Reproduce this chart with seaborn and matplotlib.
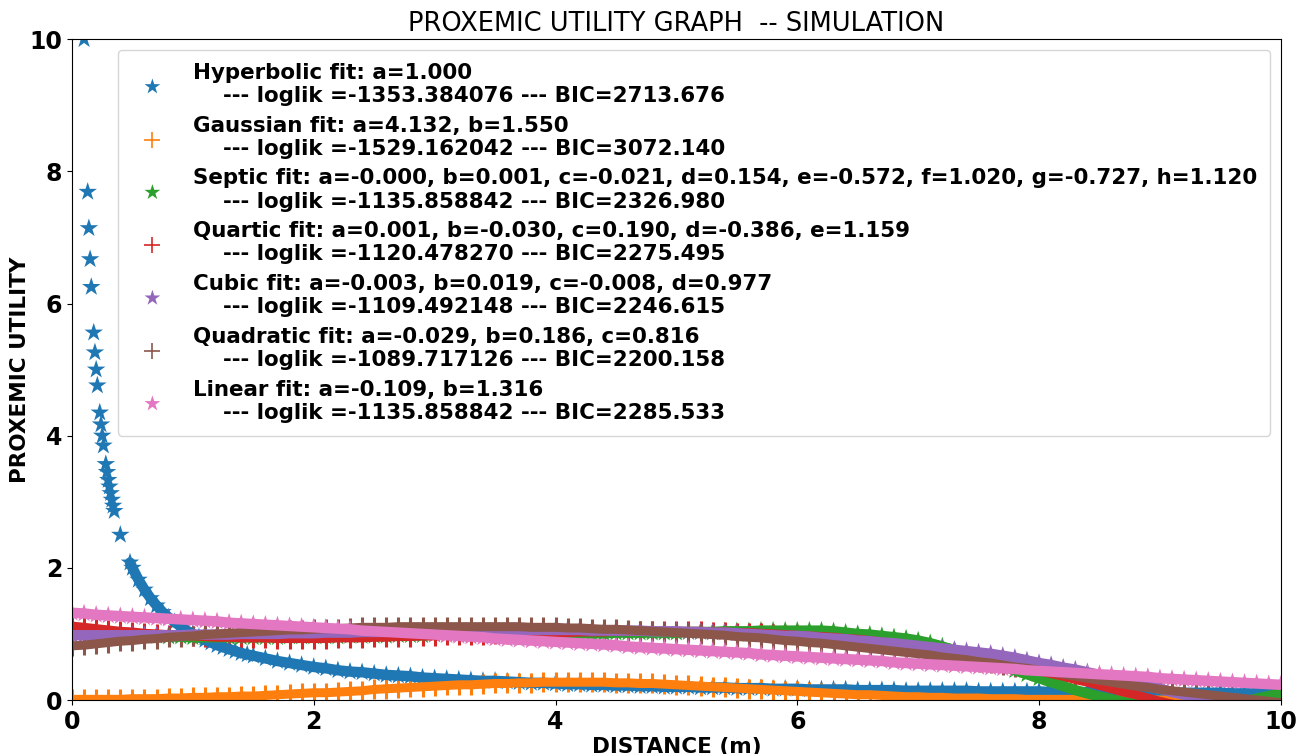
import matplotlib
matplotlib.use("Agg")
import matplotlib.pyplot as plt
import seaborn as sns

# distances (m) at which every fit is evaluated
DISTANCE = [
    0.0, 0.1, 0.2, 0.3, 0.4, 0.5, 0.6, 0.7, 0.8, 0.9,
    1.0, 1.1, 1.2, 1.3, 1.4, 1.5, 1.6, 1.7, 1.8, 1.9,
    2.0, 2.1, 2.2, 2.3, 2.4, 2.5, 2.6, 2.7, 2.8, 2.9,
    3.0, 3.1, 3.2, 3.3, 3.4, 3.5, 3.6, 3.7, 3.8, 3.9,
    4.0, 4.1, 4.2, 4.3, 4.4, 4.5, 4.6, 4.7, 4.8, 4.9,
    5.0, 5.1, 5.2, 5.3, 5.4, 5.5, 5.6, 5.7, 5.8, 5.9,
    6.0, 6.1, 6.2, 6.3, 6.4, 6.5, 6.6, 6.7, 6.8, 6.9,
    7.0, 7.1, 7.2, 7.3, 7.4, 7.5, 7.6, 7.7, 7.8, 7.9,
    8.0, 8.1, 8.2, 8.3, 8.4, 8.5, 8.6, 8.7, 8.8, 8.9,
    9.0, 9.1, 9.2, 9.3, 9.4, 9.5, 9.6, 9.7, 9.8, 9.9,
    10.0,
]

# hyperbolic fit has extra close-range samples
HYPER_NEAR = [
    0.10, 0.13, 0.14, 0.15, 0.16, 0.18, 0.19, 0.20, 0.21, 0.23, 0.24, 0.25,
    0.26, 0.28, 0.29, 0.30, 0.31, 0.32, 0.33, 0.34, 0.35, 0.40, 0.48,
    0.50, 0.55, 0.60, 0.65, 0.70, 0.75, 0.80, 0.85, 0.90, 0.95, 1.00,
    1.05, 1.10, 1.15, 1.20, 1.25, 1.30, 1.35, 1.40, 1.45, 1.50,
]
HYPER_DIST = HYPER_NEAR + DISTANCE[16:]

HYPERBOLIC = [
    10.0, 7.69, 7.14, 6.67, 6.25, 5.56, 5.26, 5.00, 4.76, 4.35, 4.17, 4.00,
    3.85, 3.57, 3.45, 3.33, 3.23, 3.13, 3.03, 2.94, 2.86, 2.50, 2.08,
    2.00, 1.82, 1.67, 1.54, 1.43, 1.33, 1.25, 1.18, 1.11, 1.05, 1.00,
    0.95, 0.91, 0.87, 0.83, 0.80, 0.77, 0.74, 0.71, 0.69, 0.67,
    0.63, 0.59, 0.56, 0.53,
    0.50, 0.48, 0.45, 0.43, 0.42, 0.40, 0.38, 0.37, 0.36, 0.34,
    0.33, 0.32, 0.31, 0.30, 0.29, 0.29, 0.28, 0.27, 0.26, 0.26,
    0.25, 0.24, 0.24, 0.23, 0.23, 0.22, 0.22, 0.21, 0.21, 0.20,
    0.20, 0.20, 0.19, 0.19, 0.19, 0.18, 0.18, 0.18, 0.17, 0.17,
    0.17, 0.16, 0.16, 0.16, 0.16, 0.15, 0.15, 0.15, 0.15, 0.14,
    0.14, 0.14, 0.14, 0.14, 0.14, 0.13, 0.13, 0.13, 0.13, 0.13,
    0.13, 0.12, 0.12, 0.12, 0.12, 0.12, 0.12, 0.11, 0.11, 0.11,
    0.11, 0.11, 0.11, 0.11, 0.11, 0.11, 0.10, 0.10, 0.10, 0.10,
    0.10,
]

GAUSSIAN = [
    0.01, 0.01, 0.01, 0.01, 0.01, 0.02, 0.02, 0.02, 0.03, 0.03,
    0.04, 0.04, 0.05, 0.05, 0.06, 0.06, 0.07, 0.08, 0.09, 0.10,
    0.11, 0.11, 0.12, 0.13, 0.14, 0.16, 0.17, 0.18, 0.19, 0.20,
    0.21, 0.22, 0.23, 0.23, 0.24, 0.25, 0.25, 0.26, 0.26, 0.27,
    0.27, 0.27, 0.27, 0.27, 0.27, 0.26, 0.26, 0.25, 0.25, 0.24,
    0.23, 0.22, 0.21, 0.20, 0.19, 0.18, 0.17, 0.16, 0.15, 0.14,
    0.13, 0.12, 0.11, 0.10, 0.09, 0.08, 0.08, 0.07, 0.06, 0.05,
    0.05, 0.04, 0.04, 0.03, 0.03, 0.03, 0.02, 0.02, 0.02, 0.01,
    0.01, 0.01, 0.01, 0.01, 0.01, 0.01, 0.00, 0.00, 0.00, 0.00,
    0.00, 0.00, 0.00, 0.00, 0.00, 0.00, 0.00, 0.00, 0.00, 0.00,
    0.00,
]

SEPTIC = [
    1.05, 1.04, 1.03, 1.02, 1.00, 0.99, 0.98, 0.97, 0.96, 0.96,
    0.95, 0.95, 0.95, 0.95, 0.95, 0.95, 0.95, 0.95, 0.96, 0.96,
    0.96, 0.96, 0.96, 0.97, 0.97, 0.97, 0.97, 0.98, 0.98, 0.98,
    0.99, 0.99, 0.99, 0.99, 1.00, 1.00, 1.00, 1.00, 1.01, 1.01,
    1.01, 1.01, 1.01, 1.01, 1.01, 1.02, 1.02, 1.02, 1.02, 1.02,
    1.02, 1.03, 1.03, 1.03, 1.04, 1.04, 1.04, 1.05, 1.05, 1.05,
    1.05, 1.05, 1.05, 1.04, 1.02, 1.00, 0.99, 0.97, 0.95, 0.93,
    0.90, 0.86, 0.81, 0.75, 0.70, 0.64, 0.58, 0.52, 0.45, 0.39,
    0.33, 0.27, 0.21, 0.15, 0.10, 0.05, 0.01, -0.03, -0.06, -0.09,
    -0.12, -0.13, -0.13, -0.12, -0.10, -0.07, -0.05, -0.02, 0.02, 0.06,
    0.10,
]

QUARTIC = [
    1.12, 1.10, 1.08, 1.06, 1.04, 1.03, 1.01, 1.00, 0.99, 0.98,
    0.97, 0.96, 0.95, 0.95, 0.94, 0.94, 0.94, 0.93, 0.93, 0.93,
    0.93, 0.93, 0.94, 0.94, 0.94, 0.95, 0.95, 0.96, 0.96, 0.97,
    0.97, 0.98, 0.98, 0.99, 0.99, 1.00, 1.00, 1.01, 1.01, 1.02,
    1.02, 1.02, 1.03, 1.03, 1.03, 1.04, 1.04, 1.04, 1.04, 1.04,
    1.04, 1.04, 1.04, 1.03, 1.03, 1.02, 1.02, 1.01, 1.00, 0.99,
    0.98, 0.97, 0.96, 0.95, 0.93, 0.92, 0.90, 0.88, 0.86, 0.84,
    0.80, 0.77, 0.74, 0.71, 0.67, 0.64, 0.60, 0.56, 0.52, 0.48,
    0.44, 0.40, 0.36, 0.31, 0.27, 0.22, 0.17, 0.12, 0.08, 0.03,
    -0.02, -0.06, -0.10, -0.14, -0.18, -0.22, -0.26, -0.30, -0.33, -0.37,
    -0.40,
]

CUBIC = [
    0.98, 0.98, 0.98, 0.98, 0.98, 0.98, 0.98, 0.98, 0.98, 0.98,
    0.99, 0.99, 0.99, 0.99, 1.00, 1.00, 1.00, 1.00, 1.01, 1.01,
    1.01, 1.02, 1.02, 1.02, 1.03, 1.03, 1.03, 1.04, 1.04, 1.04,
    1.04, 1.05, 1.05, 1.05, 1.05, 1.05, 1.06, 1.06, 1.06, 1.06,
    1.06, 1.06, 1.06, 1.05, 1.05, 1.05, 1.05, 1.05, 1.04, 1.04,
    1.04, 1.03, 1.03, 1.02, 1.02, 1.01, 1.00, 0.99, 0.98, 0.97,
    0.97, 0.96, 0.94, 0.93, 0.92, 0.90, 0.89, 0.87, 0.86, 0.84,
    0.82, 0.80, 0.78, 0.76, 0.74, 0.72, 0.70, 0.67, 0.64, 0.60,
    0.56, 0.53, 0.49, 0.46, 0.42, 0.38, 0.34, 0.30, 0.25, 0.21,
    0.17, 0.12, 0.08, 0.04, -0.01, -0.05, -0.10, -0.15, -0.20, -0.25,
    -0.30,
]

QUADRATIC = [
    0.82, 0.83, 0.85, 0.87, 0.89, 0.90, 0.92, 0.93, 0.95, 0.96,
    0.97, 0.99, 1.00, 1.01, 1.02, 1.03, 1.04, 1.05, 1.06, 1.06,
    1.07, 1.08, 1.08, 1.09, 1.10, 1.10, 1.10, 1.11, 1.11, 1.11,
    1.11, 1.11, 1.11, 1.11, 1.11, 1.11, 1.11, 1.11, 1.10, 1.10,
    1.10, 1.09, 1.09, 1.08, 1.07, 1.07, 1.06, 1.05, 1.04, 1.03,
    1.02, 1.01, 1.00, 0.99, 0.98, 0.96, 0.95, 0.94, 0.92, 0.90,
    0.89, 0.87, 0.86, 0.84, 0.82, 0.80, 0.78, 0.76, 0.74, 0.72,
    0.70, 0.68, 0.65, 0.63, 0.61, 0.58, 0.56, 0.53, 0.50, 0.48,
    0.45, 0.42, 0.39, 0.36, 0.33, 0.30, 0.27, 0.24, 0.21, 0.19,
    0.16, 0.14, 0.12, 0.10, 0.08, 0.06, 0.04, 0.02, 0.00, -0.02,
    -0.04,
]

LINEAR = [
    1.32, 1.31, 1.29, 1.28, 1.27, 1.26, 1.25, 1.24, 1.23, 1.22,
    1.21, 1.20, 1.19, 1.17, 1.16, 1.15, 1.14, 1.13, 1.12, 1.11,
    1.10, 1.09, 1.08, 1.07, 1.05, 1.04, 1.03, 1.02, 1.01, 1.00,
    0.99, 0.98, 0.97, 0.96, 0.95, 0.93, 0.92, 0.91, 0.90, 0.89,
    0.88, 0.87, 0.86, 0.85, 0.84, 0.83, 0.81, 0.80, 0.79, 0.78,
    0.77, 0.76, 0.75, 0.74, 0.73, 0.72, 0.71, 0.69, 0.68, 0.67,
    0.66, 0.65, 0.64, 0.63, 0.62, 0.61, 0.60, 0.59, 0.57, 0.56,
    0.55, 0.54, 0.53, 0.52, 0.51, 0.50, 0.49, 0.48, 0.47, 0.45,
    0.44, 0.43, 0.42, 0.41, 0.40, 0.39, 0.38, 0.37, 0.36, 0.35,
    0.33, 0.32, 0.31, 0.30, 0.29, 0.28, 0.27, 0.26, 0.25, 0.24,
    0.23,
]

LABELS = [
    "Hyperbolic fit: a=1.000\n    --- loglik =-1353.384076 --- BIC=2713.676",
    "Gaussian fit: a=4.132, b=1.550\n    --- loglik =-1529.162042 --- BIC=3072.140",
    "Septic fit: a=-0.000, b=0.001, c=-0.021, d=0.154, e=-0.572, f=1.020, g=-0.727, h=1.120"
    "\n    --- loglik =-1135.858842 --- BIC=2326.980",
    "Quartic fit: a=0.001, b=-0.030, c=0.190, d=-0.386, e=1.159\n    --- loglik =-1120.478270 --- BIC=2275.495",
    "Cubic fit: a=-0.003, b=0.019, c=-0.008, d=0.977\n    --- loglik =-1109.492148 --- BIC=2246.615",
    "Quadratic fit: a=-0.029, b=0.186, c=0.816\n    --- loglik =-1089.717126 --- BIC=2200.158",
    "Linear fit: a=-0.109, b=1.316\n    --- loglik =-1135.858842 --- BIC=2285.533",
]

series = [
    (HYPER_DIST, HYPERBOLIC, "*"),
    (DISTANCE, GAUSSIAN, "+"),
    (DISTANCE, SEPTIC, "*"),
    (DISTANCE, QUARTIC, "+"),
    (DISTANCE, CUBIC, "*"),
    (DISTANCE, QUADRATIC, "+"),
    (DISTANCE, LINEAR, "*"),
]

sns.set_style("ticks")
plt.rcParams["font.family"] = ["DejaVu Sans"]
plt.rcParams["text.color"] = "black"
plt.rcParams["axes.labelcolor"] = "black"
plt.rcParams["xtick.color"] = "black"
plt.rcParams["ytick.color"] = "black"
colors = sns.color_palette("tab10")

fig, ax = plt.subplots(figsize=(12.99, 7.54), dpi=100)
fig.subplots_adjust(left=0.0554, right=0.986, top=0.948, bottom=0.0716)

msize = 14
for i, (xs, ys, mk) in enumerate(series):
    # dense markers merge into a solid band in the original
    start = 22 if i == 0 else 0   # isolated close-range hyperbolic points stay separate
    sns.lineplot(x=xs[start:], y=ys[start:], color=colors[i],
                 linewidth=7.5 if mk == "*" else 6.5,
                 estimator=None, sort=False, ax=ax)
    if mk == "*":
        sns.scatterplot(x=xs, y=ys, marker=mk, s=msize ** 2, color=colors[i],
                        edgecolor="none", linewidth=0, label=LABELS[i], ax=ax)
    else:
        sns.scatterplot(x=xs, y=ys, marker=mk, s=msize ** 2, color=colors[i],
                        linewidth=2.2, label=LABELS[i], ax=ax)

ax.set_xlim(0, 10)
ax.set_ylim(0, 10)
ax.set_xticks([0, 2, 4, 6, 8, 10])
ax.set_yticks([0, 2, 4, 6, 8, 10])
for lab in ax.get_xticklabels() + ax.get_yticklabels():
    lab.set_fontsize(17)
    lab.set_fontweight("bold")
for sp in ax.spines.values():
    sp.set_color("black")

ax.set_title("PROXEMIC UTILITY GRAPH  -- SIMULATION", fontsize=18.5)
ax.set_xlabel("DISTANCE (m)", fontsize=15.5, fontweight="bold", labelpad=2)
ax.set_ylabel("PROXEMIC UTILITY", fontsize=15.5, fontweight="bold")
ax.yaxis.set_label_coords(-0.035, 0.5)

leg = ax.legend(loc="upper right", prop={"size": 15.4, "weight": "bold"},
                labelspacing=0.45, borderpad=0.6, handletextpad=0.9,
                markerscale=0.85)
for h in leg.legend_handles:
    h.set_linewidth(1.2)

plt.savefig("out.png", dpi=100)
